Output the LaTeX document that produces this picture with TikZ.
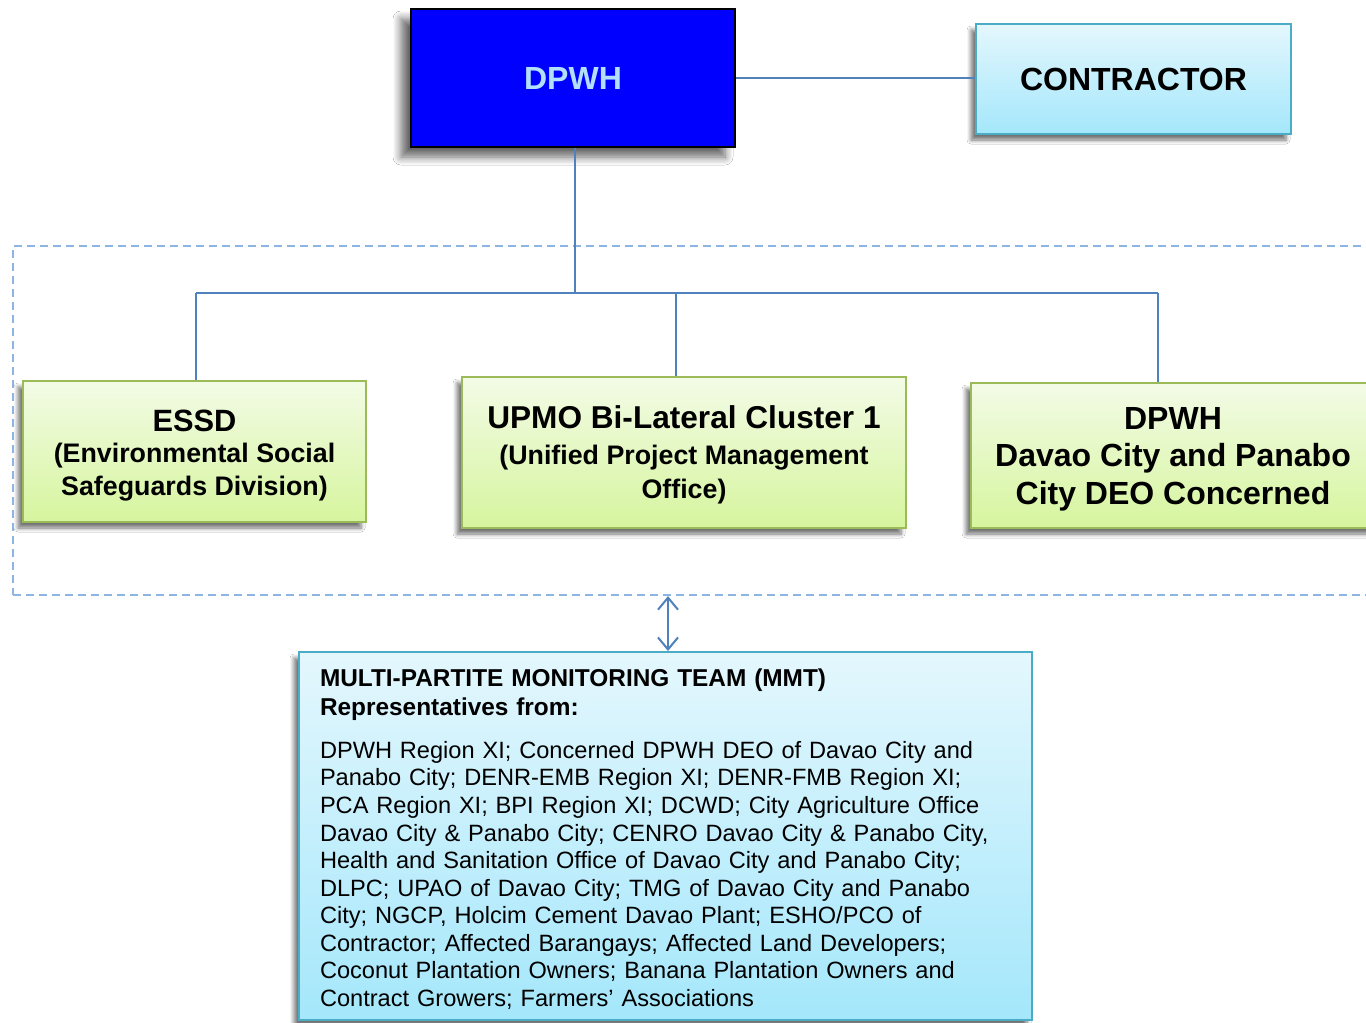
\documentclass[tikz,border=0pt]{standalone}
\usepackage{fontspec}
\setmainfont{Liberation Sans}
\usetikzlibrary{shadows.blur,arrows.meta}

\definecolor{linkc}{RGB}{79,129,189}
\definecolor{dashc}{RGB}{141,180,226}
\definecolor{deepblue}{RGB}{0,0,255}
\definecolor{skytext}{RGB}{178,224,252}
\definecolor{cyantop}{RGB}{228,247,253}
\definecolor{cyanbot}{RGB}{164,231,251}
\definecolor{cyanedge}{RGB}{75,172,198}
\definecolor{greentop}{RGB}{243,251,230}
\definecolor{greenbot}{RGB}{214,245,158}
\definecolor{greenedge}{RGB}{155,187,89}

\tikzset{
  box/.style={rectangle, inner sep=0pt, align=center, text=black},
  words/.style={rectangle, inner sep=0pt, align=center, text=black},
  softshadow/.style={blur shadow={shadow xshift=-2.5pt, shadow yshift=-3pt,
      shadow blur radius=2pt, shadow blur steps=6, shadow opacity=55}},
  greenbox/.style={box, draw=greenedge, line width=1pt,
      top color=greentop, bottom color=greenbot, softshadow},
  cyanbox/.style={box, draw=cyanedge, line width=1pt,
      top color=cyantop, bottom color=cyanbot, softshadow},
  topbox/.style={box, draw=black, line width=1.2pt, fill=deepblue, text=skytext,
      blur shadow={shadow xshift=-5pt, shadow yshift=-5pt,
      shadow blur radius=4pt, shadow blur steps=8, shadow opacity=60}},
  link/.style={draw=linkc, line width=1pt},
  groupframe/.style={rectangle, draw=dashc, line width=1.1pt,
      dash pattern=on 4pt off 2.5pt, inner sep=0pt},
  bigfont/.style={font=\fontsize{16}{18.75}\selectfont\bfseries},
}

\begin{document}
\begin{tikzpicture}[x=0.5pt,y=-0.5pt]
\useasboundingbox (0,0) rectangle (1366,1023);
\fill[white] (0,0) rectangle (1366,1023);

% dashed frame around the three divisions
\node[groupframe, minimum width=688.5pt, minimum height=174.5pt] (group) at (701.5,420.5) {};

% top level
\node[topbox, bigfont, minimum width=162pt, minimum height=69pt] (dpwh) at (573,78) {DPWH};
\node[cyanbox, bigfont, minimum width=157.5pt, minimum height=55pt] (contractor) at (1133.5,79) {CONTRACTOR};

% divisions: boxes, then their captions
\node[greenbox, minimum width=171.5pt, minimum height=70.5pt] (essd) at (194.5,451.5) {};
\node[words, font=\fontsize{13.4}{16.75}\selectfont\bfseries, yshift=-2.25pt] (essdtext) at (essd.center)
  {{\fontsize{15.4}{18}\selectfont ESSD}\\[-1.5pt](Environmental Social\\Safeguards Division)};

\node[greenbox, minimum width=222pt, minimum height=75.5pt] (upmo) at (684,452.5) {};
\node[words, font=\fontsize{13.4}{17}\selectfont\bfseries, yshift=-1.25pt] (upmotext) at (upmo.center)
  {{\fontsize{15.8}{18}\selectfont UPMO Bi-Lateral Cluster 1}\\[1pt](Unified Project Management\\Office)};

\node[greenbox, minimum width=202pt, minimum height=72.5pt] (deo) at (1173,455.5) {};
\node[words, bigfont, yshift=-1.75pt] (deotext) at (deo.center)
  {DPWH\\Davao City and Panabo\\City DEO Concerned};

% monitoring team
\node[cyanbox, minimum width=366.5pt, minimum height=184pt] (mmt) at (665.5,836) {};
\node[words, text width=345.5pt, align=left, font=\fontsize{11.8}{13.78}\selectfont,
      yshift=-1.5pt] (mmttext) at (mmt.center)
  {{\fontsize{12.2}{15}\selectfont\bfseries MULTI-PARTITE MONITORING TEAM (MMT)}\\[0.75pt]
   {\fontsize{12.2}{15}\selectfont\bfseries Representatives from:}\\[7.75pt]
   DPWH Region XI; Concerned DPWH DEO of Davao City and\\
   Panabo City; DENR-EMB Region XI; DENR-FMB Region XI;\\
   PCA Region XI; BPI Region XI; DCWD; City Agriculture Office\\
   Davao City \& Panabo City; CENRO Davao City \& Panabo City,\\
   Health and Sanitation Office of Davao City and Panabo City;\\
   DLPC; UPAO of Davao City; TMG of Davao City and Panabo\\
   City; NGCP, Holcim Cement Davao Plant; ESHO/PCO of\\
   Contractor; Affected Barangays; Affected Land Developers;\\
   Coconut Plantation Owners; Banana Plantation Owners and\\
   Contract Growers; Farmers’ Associations};

% connectors
\coordinate (bus) at (0,293);
\coordinate (arrowx) at (668,0);
\draw[link] (dpwh.east) -- (contractor.west |- dpwh.east);
\draw[link] ([xshift=1pt]dpwh.south) -- ([xshift=1pt]dpwh.south |- bus);
\draw[link] ([xshift=0.75pt]essd.north |- bus) -- ([xshift=-7.5pt]deo.north |- bus);
\draw[link] ([xshift=0.75pt]essd.north |- bus) -- ([xshift=0.75pt]essd.north);
\draw[link] ([xshift=-4pt]upmo.north |- bus) -- ([xshift=-4pt]upmo.north);
\draw[link] ([xshift=-7.5pt]deo.north |- bus) -- ([xshift=-7.5pt]deo.north);
\draw[link, {Straight Barb[length=6pt,width=10pt]}-{Straight Barb[length=6pt,width=10pt]}]
  (group.south -| arrowx) -- (mmt.north -| arrowx);
\end{tikzpicture}
\end{document}
